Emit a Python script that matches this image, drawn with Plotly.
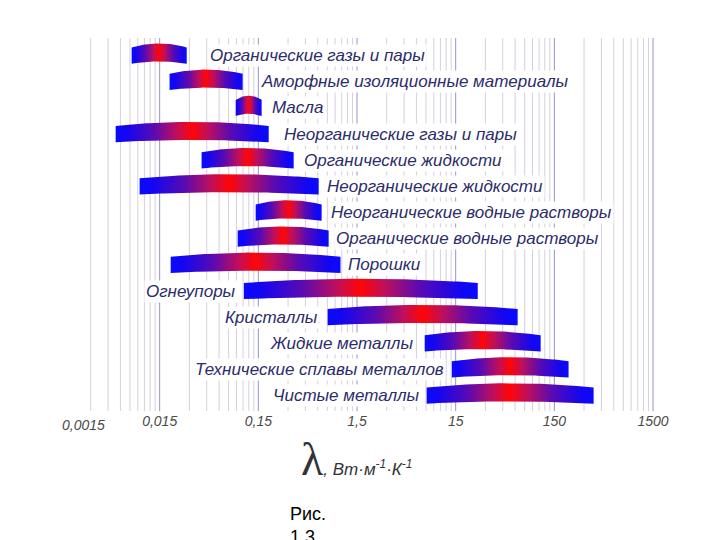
import math
import plotly.graph_objects as go

# ---------------- data ----------------
materials = [
    "Органические газы и пары",
    "Аморфные изоляционные материалы",
    "Масла",
    "Неорганические газы и пары",
    "Органические жидкости",
    "Неорганические жидкости",
    "Неорганические водные растворы",
    "Органические водные растворы",
    "Порошки",
    "Огнеупоры",
    "Кристаллы",
    "Жидкие металлы",
    "Технические сплавы металлов",
    "Чистые металлы",
]
lam_min = [0.0078, 0.0189, 0.0884, 0.00537, 0.0399, 0.0094, 0.141, 0.0926, 0.0194, 0.107, 0.756, 7.28, 13.7, 7.62]
lam_max = [0.0282, 0.104, 0.162, 0.191, 0.342, 0.613, 0.657, 0.774, 1.02, 25.1, 63.7, 109.0, 209.0, 375.0]
label_side = ["right"] * 9 + ["left"] * 5

tick_vals = [0.0015, 0.015, 0.15, 1.5, 15, 150, 1500]
tick_labels = ["0,0015", "0,015", "0,15", "1,5", "15", "150", "1500"]
grid_multiples = [2, 3, 4, 5, 6, 7, 8, 9]

# ---------------- style / layout ----------------
label_gap = [21, 16, 8, 13, 8, 6, 7, 5, 6, 6, 8, 10, 6, 5]
half_thick = 0.31
rise_top = 0.16
rise_bot = 0.09
text_color = "#2c2c6a"
colorscale = [
    [0.0, "#0a0aff"], [0.07, "#1206f2"], [0.25, "#5a0ab2"], [0.40, "#c00f5a"],
    [0.5, "#ff0505"],
    [0.60, "#c00f5a"], [0.75, "#5a0ab2"], [0.93, "#1206f2"], [1.0, "#0a0aff"],
]

fig = go.Figure()

# bars: curved bands with horizontal gradient
N = 60
for i, (lo, hi) in enumerate(zip(lam_min, lam_max)):
    a, b = math.log10(lo), math.log10(hi)
    ts = [-1 + 2 * k / N for k in range(N + 1)]
    xs_top = [10 ** (a + (t + 1) / 2 * (b - a)) for t in ts]
    ys_top = [i - half_thick - rise_top * (1 - t * t) for t in ts]
    xs_bot = list(reversed(xs_top))
    ys_bot = [i + half_thick - rise_bot * (1 - t * t) for t in reversed(ts)]
    fig.add_trace(go.Scatter(
        x=xs_top + xs_bot + [xs_top[0]],
        y=ys_top + ys_bot + [ys_top[0]],
        mode="lines", line=dict(width=0), fill="toself",
        fillgradient=dict(type="horizontal", colorscale=colorscale),
        hoverinfo="skip", showlegend=False,
    ))

# vertical grid lines
grid_bases = tick_vals[:-1]
for base in grid_bases:
    for m in grid_multiples:
        fig.add_shape(type="line", xref="x", yref="paper", x0=base * m, x1=base * m,
                      y0=0, y1=1, line=dict(color="#d6cfdc", width=1), layer="below")
for v in tick_vals[1:]:
    fig.add_shape(type="line", xref="x", yref="paper", x0=v, x1=v,
                  y0=0, y1=1, line=dict(color="#9494cc", width=1), layer="below")

# labels
for i, name in enumerate(materials):
    if label_side[i] == "right":
        fig.add_annotation(x=math.log10(lam_max[i]), y=i, text=name, showarrow=False,
                           xanchor="left", yanchor="middle", xshift=label_gap[i],
                           bgcolor="white", borderpad=1,
                           font=dict(family="Liberation Sans", size=17, color=text_color, style="italic"))
    else:
        fig.add_annotation(x=math.log10(lam_min[i]), y=i, text=name, showarrow=False,
                           xanchor="right", yanchor="middle", xshift=-label_gap[i],
                           bgcolor="white", borderpad=1,
                           font=dict(family="Liberation Sans", size=17, color=text_color, style="italic"))

# first tick label (placed slightly right of its tick as in the original)
fig.add_annotation(x=math.log10(tick_vals[0]), y=0, yref="paper", text=tick_labels[0],
                   showarrow=False, xanchor="center", yanchor="top", xshift=22, yshift=-4,
                   font=dict(family="Liberation Sans", size=14, color="#4a4a4a", style="italic"))

# axis title
fig.add_annotation(xref="paper", yref="paper", x=0.400, y=-0.131, xanchor="left", yanchor="middle",
                   showarrow=False,
                   text="<span style='font-size:46px;font-family:Liberation Serif'>λ</span>"
                        "<i>, Вт·м<sup>-1</sup>·К<sup>-1</sup></i>",
                   font=dict(family="Liberation Sans", size=17, color="#333333"))

# caption
fig.add_annotation(xref="paper", yref="paper", x=(288 - 61) / 594, y=-0.243, xanchor="left", yanchor="top",
                   showarrow=False, align="left", text="Рис.<br>1.3",
                   font=dict(family="Liberation Sans", size=18, color="black"))

fig.update_layout(
    width=720, height=540,
    margin=dict(l=61, r=65, t=38, b=129),
    paper_bgcolor="white", plot_bgcolor="white",
    showlegend=False,
    xaxis=dict(type="log", range=[math.log10(0.0015), math.log10(1500) + 0.02],
               tickvals=tick_vals[1:], ticktext=tick_labels[1:],
               showgrid=False, zeroline=False, showline=False, ticks="",
               tickfont=dict(family="Liberation Sans", size=14, color="#4a4a4a", style="italic")),
    yaxis=dict(range=[13.59, -0.677], visible=False),
)

fig.write_html("out.html")
